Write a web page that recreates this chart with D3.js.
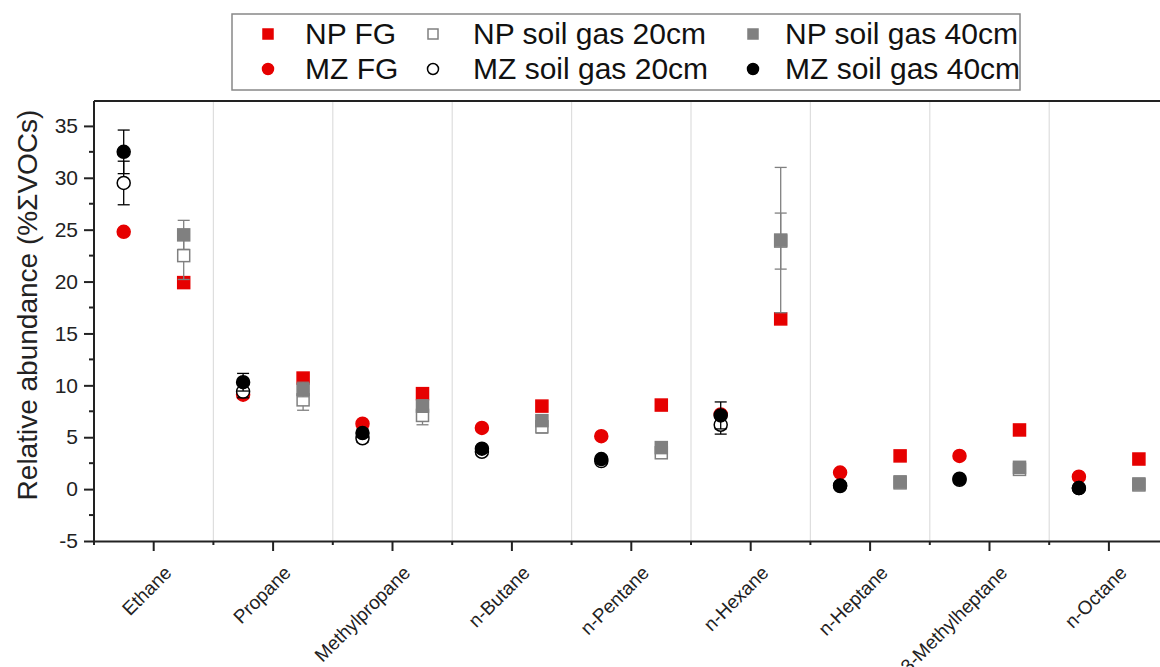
<!DOCTYPE html>
<html>
<head>
<meta charset="utf-8">
<script src="https://cdn.jsdelivr.net/npm/d3@7"></script>
<style>
  html, body { margin: 0; padding: 0; background: #fff; }
  svg { display: block; font-family: "Liberation Sans", Arial, sans-serif; }
</style>
</head>
<body>
<svg id="chart" width="1160" height="667"></svg>
<script>
// Relative abundance of light hydrocarbons (% of total VOCs)
const categories = ["Ethane", "Propane", "Methylpropane", "n-Butane", "n-Pentane",
                    "n-Hexane", "n-Heptane", "3-Methylheptane", "n-Octane"];

// NP site
const npFG       = [19.9, 10.7, 9.2, 8.0, 8.1, 16.4, 3.2, 5.7, 2.9];
const npSoil20   = [22.5, 8.6, 7.1, 6.0, 3.5, 23.9, 0.6, 1.9, 0.4];
const npSoil20Sd = [2.3, 1.0, 0.9, 0.6, 0.4, 2.7, 0.2, 0.3, 0.2];
const npSoil40   = [24.5, 9.6, 8.0, 6.6, 4.0, 24.0, 0.7, 2.1, 0.5];
const npSoil40Sd = [1.4, 0.7, 0.6, 0.5, 0.3, 7.0, 0.1, 0.3, 0.1];

// MZ site
const mzFG       = [24.8, 9.1, 6.3, 5.9, 5.1, 7.2, 1.6, 3.2, 1.2];
const mzSoil20   = [29.5, 9.4, 4.9, 3.6, 2.7, 6.2, 0.3, 0.9, 0.1];
const mzSoil20Sd = [2.1, 0.6, 0.4, 0.3, 0.2, 0.9, 0.1, 0.1, 0.1];
const mzSoil40   = [32.5, 10.3, 5.4, 3.9, 2.9, 7.1, 0.35, 1.0, 0.1];
const mzSoil40Sd = [2.1, 0.85, 0.4, 0.3, 0.2, 1.3, 0.1, 0.1, 0.1];

const yTicks = [-5, 0, 5, 10, 15, 20, 25, 30, 35];
const yLabel = "Relative abundance (%ΣVOCs)";

const RED = "#e60000", GREY = "#808080", BLACK = "#000";

const svg = d3.select("#chart");
const plot = { left: 94, right: 1168.6, top: 101, bottom: 541 };

const x = d3.scaleBand().domain(categories).range([plot.left, plot.right]).padding(0);
const y = d3.scaleLinear().domain([-5, 37.4]).range([plot.bottom, plot.top]);
const offset = 30; // MZ to the left of the category centre, NP to the right

// vertical separators between categories
const bounds = categories.slice(1).map(c => x(c));
svg.append("g").selectAll("line").data(bounds).join("line")
  .attr("x1", d => d).attr("x2", d => d)
  .attr("y1", plot.top).attr("y2", plot.bottom)
  .attr("stroke", "#dedede").attr("stroke-width", 1.2);

// top frame line
svg.append("line")
  .attr("x1", plot.left).attr("x2", plot.right)
  .attr("y1", plot.top).attr("y2", plot.top)
  .attr("stroke", "#222").attr("stroke-width", 2);

// y axis
const yAxis = svg.append("g")
  .attr("transform", `translate(${plot.left},0)`)
  .call(d3.axisLeft(y).tickValues(yTicks).tickSize(10).tickPadding(6).tickFormat(d => String(d)));
yAxis.select(".domain").attr("stroke", "#222").attr("stroke-width", 2)
  .attr("d", `M0,${plot.bottom}V${plot.top}`);
yAxis.selectAll(".tick line").attr("stroke", "#222").attr("stroke-width", 2);
yAxis.selectAll(".tick text").attr("font-size", 21).attr("fill", "#222")
  .attr("font-family", "Liberation Sans, Arial, sans-serif");
// minor y ticks
svg.append("g").selectAll("line")
  .data(yTicks.map(v => v + 2.5).filter(v => v < 37.4))
  .join("line")
  .attr("x1", plot.left - 5).attr("x2", plot.left)
  .attr("y1", d => y(d)).attr("y2", d => y(d))
  .attr("stroke", "#222").attr("stroke-width", 2);

// x axis
const xAxis = svg.append("g")
  .attr("transform", `translate(0,${plot.bottom})`)
  .call(d3.axisBottom(x).tickSize(10).tickSizeOuter(0));
xAxis.select(".domain").attr("stroke", "#222").attr("stroke-width", 2);
xAxis.selectAll(".tick line").attr("stroke", "#222").attr("stroke-width", 2);
xAxis.selectAll(".tick text")
  .attr("font-size", 19).attr("fill", "#222")
  .attr("font-family", "Liberation Sans, Arial, sans-serif")
  .attr("text-anchor", "end")
  .attr("dy", null).attr("y", 0)
  .attr("transform", "translate(19,33) rotate(-45)");
// minor x ticks on the category boundaries
svg.append("g").selectAll("line")
  .data([plot.left].concat(bounds))
  .join("line")
  .attr("x1", d => d).attr("x2", d => d)
  .attr("y1", plot.bottom).attr("y2", plot.bottom + 4)
  .attr("stroke", "#222").attr("stroke-width", 2);

// y axis title
svg.append("text")
  .attr("transform", "translate(37,305) rotate(-90)")
  .attr("text-anchor", "middle")
  .attr("font-size", 28).attr("fill", "#222")
  .text(yLabel);

// series definitions (drawing order: FG, 20 cm, 40 cm)
const series = [
  { name: "NP FG", site: "NP", shape: "square", fill: RED, stroke: RED, values: npFG, sd: null, errColor: GREY },
  { name: "MZ FG", site: "MZ", shape: "circle", fill: RED, stroke: RED, values: mzFG, sd: null, errColor: BLACK },
  { name: "NP soil gas 20cm", site: "NP", shape: "square", fill: "#fff", stroke: GREY, values: npSoil20, sd: npSoil20Sd, errColor: GREY },
  { name: "MZ soil gas 20cm", site: "MZ", shape: "circle", fill: "#fff", stroke: BLACK, values: mzSoil20, sd: mzSoil20Sd, errColor: BLACK },
  { name: "NP soil gas 40cm", site: "NP", shape: "square", fill: GREY, stroke: GREY, values: npSoil40, sd: npSoil40Sd, errColor: GREY },
  { name: "MZ soil gas 40cm", site: "MZ", shape: "circle", fill: BLACK, stroke: BLACK, values: mzSoil40, sd: mzSoil40Sd, errColor: BLACK }
];

const cx = (s, i) => x(categories[i]) + x.bandwidth() / 2 + (s.site === "MZ" ? -offset : offset);

function drawMarker(g, shape, fill, stroke, px, py, size) {
  if (shape === "square") {
    g.append("rect")
      .attr("x", px - size / 2).attr("y", py - size / 2)
      .attr("width", size).attr("height", size)
      .attr("fill", fill).attr("stroke", stroke).attr("stroke-width", 1.5);
  } else {
    g.append("circle")
      .attr("cx", px).attr("cy", py).attr("r", size / 2)
      .attr("fill", fill).attr("stroke", stroke).attr("stroke-width", 1.5);
  }
}

const marks = svg.append("g");
series.forEach(s => {
  const g = marks.append("g");
  if (s.sd) {
    s.values.forEach((v, i) => {
      const px = cx(s, i), lo = y(v - s.sd[i]), hi = y(v + s.sd[i]);
      g.append("line").attr("x1", px).attr("x2", px).attr("y1", lo).attr("y2", hi)
        .attr("stroke", s.errColor).attr("stroke-width", 1.3);
      [lo, hi].forEach(yy => g.append("line")
        .attr("x1", px - 6).attr("x2", px + 6).attr("y1", yy).attr("y2", yy)
        .attr("stroke", s.errColor).attr("stroke-width", 1.3));
    });
  }
  s.values.forEach((v, i) => {
    drawMarker(g, s.shape, s.fill, s.stroke, cx(s, i), y(v), s.shape === "square" ? 12 : 13);
  });
});

// legend
const legend = svg.append("g");
legend.append("rect")
  .attr("x", 232).attr("y", 14).attr("width", 788).attr("height", 76)
  .attr("fill", "#fff").attr("stroke", "#888").attr("stroke-width", 1.5);
const legendCols = [
  { mx: 268, tx: 305 },
  { mx: 433, tx: 473 },
  { mx: 753, tx: 785 }
];
const legendRows = [34, 69];
const legendOrder = [
  ["NP FG", "NP soil gas 20cm", "NP soil gas 40cm"],
  ["MZ FG", "MZ soil gas 20cm", "MZ soil gas 40cm"]
];
legendOrder.forEach((row, r) => {
  row.forEach((name, c) => {
    const s = series.find(d => d.name === name);
    drawMarker(legend, s.shape, s.fill, s.stroke, legendCols[c].mx, legendRows[r], s.shape === "square" ? 10 : 11);
    legend.append("text")
      .attr("x", legendCols[c].tx).attr("y", legendRows[r] + 10)
      .attr("font-size", 30).attr("fill", "#111")
      .text(name);
  });
});
</script>
</body>
</html>
